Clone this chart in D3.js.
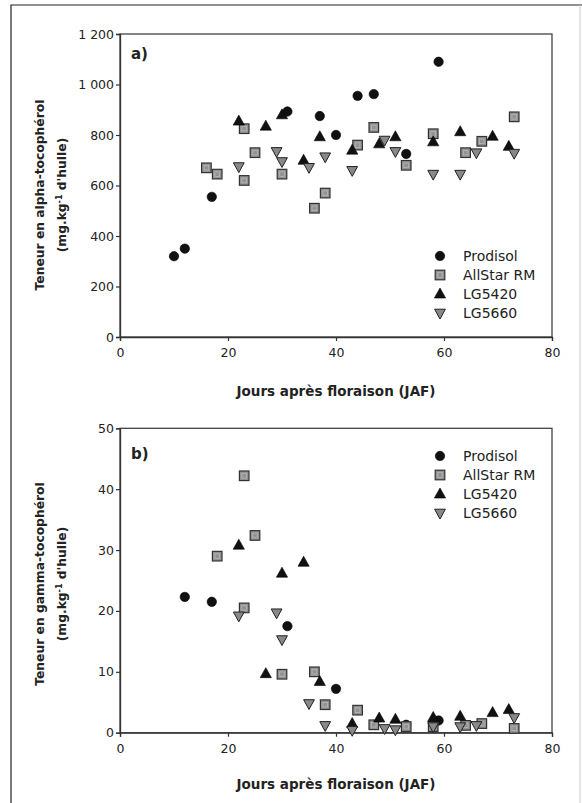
<!DOCTYPE html>
<html><head><meta charset="utf-8">
<script src="https://cdn.jsdelivr.net/npm/d3@7"></script>
<style>
html,body{margin:0;padding:0;background:#fff;}
svg{display:block;font-family:"DejaVu Sans",sans-serif;}
</style></head>
<body>
<script>
// ---- Data ----
const seriesNames = ["Prodisol", "AllStar RM", "LG5420", "LG5660"];
const xTicks = [0, 20, 40, 60, 80];
const alphaTicks = [0, 200, 400, 600, 800, 1000, 1200];
const gammaTicks = [0, 10, 20, 30, 40, 50];

const alphaProdisolX = [10, 12, 17, 31, 37, 40, 44, 47, 53, 59];
const alphaProdisolY = [320, 350, 555, 893, 875, 800, 955, 962, 725, 1090];
const alphaAllStarX = [16, 18, 23, 23, 25, 30, 36, 38, 44, 47, 53, 58, 64, 67, 73];
const alphaAllStarY = [670, 645, 825, 620, 730, 645, 510, 570, 760, 830, 680, 805, 730, 775, 872];
const alphaLG5420X = [22, 27, 30, 34, 37, 43, 48, 51, 58, 63, 69, 72];
const alphaLG5420Y = [855, 835, 880, 700, 793, 740, 765, 793, 773, 813, 795, 755];
const alphaLG5660X = [22, 29, 30, 35, 38, 43, 49, 51, 58, 63, 66, 73];
const alphaLG5660Y = [675, 735, 695, 672, 714, 660, 780, 735, 645, 645, 730, 728];

const gammaProdisolX = [12, 17, 31, 40, 53, 59];
const gammaProdisolY = [22.3, 21.5, 17.5, 7.2, 1.3, 2.0];
const gammaAllStarX = [18, 23, 23, 25, 30, 36, 38, 44, 47, 53, 58, 64, 67, 73];
const gammaAllStarY = [29, 42.2, 20.5, 32.4, 9.6, 10, 4.6, 3.7, 1.3, 1.0, 1.0, 1.2, 1.5, 0.7];
const gammaLG5420X = [22, 27, 30, 34, 37, 43, 48, 51, 58, 63, 69, 72];
const gammaLG5420Y = [30.8, 9.7, 26.2, 28, 8.4, 1.5, 2.4, 2.2, 2.5, 2.7, 3.3, 3.8];
const gammaLG5660X = [22, 29, 30, 35, 38, 43, 49, 51, 58, 63, 66, 73];
const gammaLG5660Y = [19.2, 19.7, 15.3, 4.8, 1.2, 0.4, 0.7, 0.5, 1.0, 1.0, 1.2, 2.5];

// ---- Drawing ----
const W = 582, H = 803;
const FONT = "DejaVu Sans";
const svg = d3.select("body").append("svg").attr("width", W).attr("height", H);

// page frame
svg.append("path").attr("d", "M11,803 L11,5 L582,5").attr("fill", "none").attr("stroke", "#222").attr("stroke-width", 1.2);
svg.append("line").attr("x1", 580).attr("x2", 580).attr("y1", 5).attr("y2", 803).attr("stroke", "#ccc").attr("stroke-width", 1);

const shapes = {
  circle: (g) => g.append("circle").attr("r", 4.7).attr("fill", "#111").attr("stroke", "#000").attr("stroke-width", 0.6),
  square: (g) => {
    g.append("rect").attr("x", -4.8).attr("y", -4.8).attr("width", 9.6).attr("height", 9.6)
      .attr("fill", "#929292").attr("stroke", "#333").attr("stroke-width", 1.2);
    g.append("rect").attr("x", -2.3).attr("y", -2.3).attr("width", 4.6).attr("height", 4.6)
      .attr("fill", "none").attr("stroke", "#b8b8b8").attr("stroke-width", 0.8);
  },
  up: (g) => g.append("path").attr("d", "M0,-6 L5.6,4 L-5.6,4 Z").attr("fill", "#111").attr("stroke", "#000").attr("stroke-width", 0.6),
  down: (g) => g.append("path").attr("d", "M0,6 L5.4,-3.8 L-5.4,-3.8 Z").attr("fill", "#888").attr("stroke", "#222").attr("stroke-width", 1)
};
const shapeKeys = ["circle", "square", "up", "down"];

const x = d3.scaleLinear().domain([0, 80]).range([120, 552]);

function panel(cfg) {
  const y = d3.scaleLinear().domain(cfg.domain).range(cfg.yRange);
  const g = svg.append("g");
  const fmt = (v) => d3.format(",")(v).replace(/,/g, " ");

  // frame
  g.append("rect").attr("x", x(0)).attr("y", y(cfg.domain[1]))
    .attr("width", x(80) - x(0)).attr("height", y(cfg.domain[0]) - y(cfg.domain[1]))
    .attr("fill", "none").attr("stroke", "#444").attr("stroke-width", 1.3);

  const xa = g.append("g").attr("transform", `translate(0,${y(cfg.domain[0])})`)
    .call(d3.axisBottom(x).tickValues(xTicks).tickSize(4).tickPadding(7));
  const ya = g.append("g").attr("transform", `translate(${x(0)},0)`)
    .call(d3.axisLeft(y).tickValues(cfg.ticks).tickSize(4).tickPadding(2).tickFormat(fmt));
  [xa, ya].forEach(a => {
    a.select(".domain").attr("stroke", "#333").attr("stroke-width", 1.3);
    a.selectAll(".tick line").attr("stroke", "#333").attr("stroke-width", 1.2);
    a.selectAll("text").attr("fill", "#222").style("font-size", "12.5px").style("font-family", FONT);
  });

  // axis titles
  g.append("text").attr("x", (x(0) + x(80)) / 2).attr("y", cfg.xLabelY)
    .attr("text-anchor", "middle").attr("font-weight", "bold").attr("font-size", 13.5).attr("fill", "#222")
    .text("Jours après floraison (JAF)");
  const yt = g.append("text").attr("transform", `translate(44,${cfg.yLabelCY}) rotate(-90)`)
    .attr("text-anchor", "middle").attr("font-weight", "bold").attr("font-size", 12.3).attr("fill", "#222");
  yt.append("tspan").attr("x", 0).attr("dy", 0).text(cfg.yTitle);
  const t2 = yt.append("tspan").attr("x", 0).attr("dy", 22).text("(mg.kg");
  t2.append("tspan").attr("baseline-shift", "super").attr("font-size", 8).text("-1");
  t2.append("tspan").text(" d'huile)");

  // panel label
  g.append("text").attr("x", 131).attr("y", cfg.labelY).attr("font-weight", "bold")
    .attr("font-size", 15).attr("fill", "#222").text(cfg.label);

  // points
  cfg.series.forEach((s, i) => {
    s.x.forEach((xv, j) => {
      const pg = g.append("g").attr("transform", `translate(${x(xv)},${y(s.y[j])})`);
      shapes[shapeKeys[i]](pg);
    });
  });

  // legend
  seriesNames.forEach((n, i) => {
    const ly = cfg.legendY + i * 19;
    const lg = g.append("g").attr("transform", `translate(440,${ly})`);
    shapes[shapeKeys[i]](lg);
    g.append("text").attr("x", 463).attr("y", ly).attr("dy", "0.36em")
      .attr("font-size", 14).attr("fill", "#222").text(n);
  });
}

panel({
  domain: [0, 1200], yRange: [337, 34], ticks: alphaTicks,
  yTitle: "Teneur en alpha-tocophérol", yLabelCY: 195, xLabelY: 396,
  label: "a)", labelY: 59, legendY: 256,
  series: [
    {x: alphaProdisolX, y: alphaProdisolY},
    {x: alphaAllStarX, y: alphaAllStarY},
    {x: alphaLG5420X, y: alphaLG5420Y},
    {x: alphaLG5660X, y: alphaLG5660Y}
  ]
});

panel({
  domain: [0, 50], yRange: [732.7, 428.3], ticks: gammaTicks,
  yTitle: "Teneur en gamma-tocophérol", yLabelCY: 584, xLabelY: 789,
  label: "b)", labelY: 459, legendY: 456,
  series: [
    {x: gammaProdisolX, y: gammaProdisolY},
    {x: gammaAllStarX, y: gammaAllStarY},
    {x: gammaLG5420X, y: gammaLG5420Y},
    {x: gammaLG5660X, y: gammaLG5660Y}
  ]
});
</script>
</body></html>
